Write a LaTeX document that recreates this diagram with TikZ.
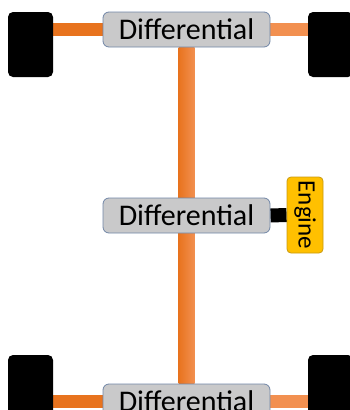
\documentclass[tikz,border=0pt]{standalone}
\usepackage{fontspec}
\setmainfont{Carlito}
\usetikzlibrary{positioning, backgrounds}

\definecolor{axleDark}{HTML}{E8731E}
\definecolor{axleLight}{HTML}{F29050}
\definecolor{diffGray}{HTML}{C9C9CA}
\definecolor{diffLine}{HTML}{7186A6}
\definecolor{engYellow}{HTML}{FFC000}
\definecolor{engLine}{HTML}{C89A10}

\tikzset{
	wheel/.style={draw=none, fill=black, rounded corners=5pt, minimum width=45pt, minimum height=65pt},
	diff/.style={draw=diffLine, line width=0.8pt, fill=diffGray, rounded corners=6pt, minimum width=167pt, minimum height=35pt, inner sep=0pt, font=\fontsize{30}{34}\selectfont},
	engine/.style={draw=engLine, line width=0.8pt, fill=engYellow, rounded corners=4pt, minimum width=76pt, minimum height=36pt, inner sep=0pt, rotate=-90, font=\fontsize{25}{28}\selectfont},
	axle/.style={line width=13pt},
}

\begin{document}
\begin{tikzpicture}[x=1pt, y=-1pt]

		\useasboundingbox (0,0) rectangle (349,410);

		% Raeder
		\node[wheel] (wTL) at (30.5,44.5) {};
		\node[wheel] (wTR) at (330.5,44.5) {};
		\node[wheel] (wBL) at (30.5,387.5) {};
		\node[wheel] (wBR) at (330.5,387.5) {};

		% Differentiale
		\node[diff] (dTop) at (186.5,29.5) {Differential};
		\node[diff] (dMid) at (186.5,215.5) {Differential};
		\node[diff] (dBot) at (186.5,401.5) {Differential};

		% Motor
		\node[engine] (eng) at (305,215) {Engine};

		% Achsen, Welle und Motoranschluss
		\begin{scope}[on background layer]
			\draw[axle, axleDark] (dTop.west) -- (dTop.west -| wTL.east);
			\draw[axle, axleLight] (dTop.east) -- (dTop.east -| wTR.west);
			\draw[axle, axleDark] (dBot.west) -- (dBot.west -| wBL.east);
			\draw[axle, axleLight] (dBot.east) -- (dBot.east -| wBR.west);
			\shade[left color=axleDark, right color=axleLight]
				([xshift=-8pt]dTop.south) rectangle ([xshift=8pt]dBot.north);
			\draw[line width=14pt] (dMid.east) -- (eng.south);
		\end{scope}

	\end{tikzpicture}
\end{document}
